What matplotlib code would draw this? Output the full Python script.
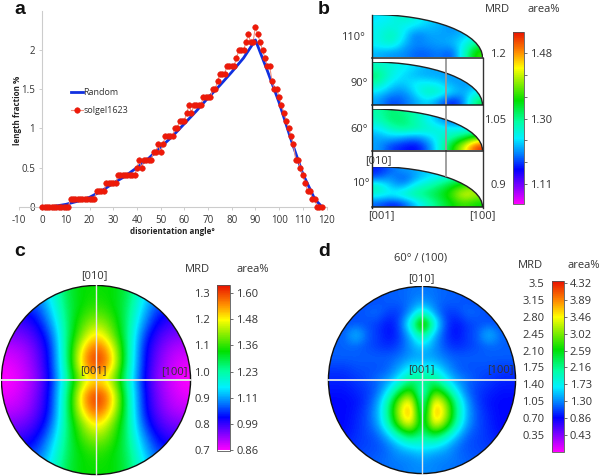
import numpy as np
import matplotlib
matplotlib.use('Agg')
import matplotlib.pyplot as plt
from matplotlib.colors import LinearSegmentedColormap, Normalize
from matplotlib.patches import Circle, Ellipse, Arc

plt.rcParams['font.family'] = ['Open Sans', 'DejaVu Sans']
plt.rcParams['axes.unicode_minus'] = False

# panel a: length fraction per degree
angle = list(range(0, 120))
solgel = [0]*12 + [0.1]*11 + [0.2]*4 + [0.3]*5 + [0.4]*8 + [0.5, 0.6, 0.5, 0.6, 0.6, 0.6, 0.6, 0.7, 0.7, 0.8, 0.7, 0.8,
          0.9, 0.9, 0.9, 0.9, 1.0, 1.0, 1.1, 1.1, 1.1, 1.2, 1.3, 1.2, 1.3, 1.3, 1.3, 1.3, 1.4, 1.4, 1.4, 1.4, 1.5, 1.5,
          1.6, 1.7, 1.7, 1.7, 1.8, 1.8, 1.8, 1.8, 1.9, 2.0, 2.0, 2.0, 2.1, 2.2, 2.1, 2.1, 2.3, 2.2, 2.1, 2.0, 1.9,
          1.8, 1.8, 1.6, 1.5, 1.5, 1.4, 1.3, 1.2, 1.1, 1.0, 0.9, 0.8, 0.6, 0.6, 0.5, 0.4, 0.3, 0.2, 0.2, 0.1, 0.1,
          0, 0, 0, 0]
random_x = [0, 5, 10, 15, 20, 25, 30, 35, 40, 45, 50, 55, 60, 65, 70, 75, 80, 85, 90, 95, 100, 105, 110, 115, 118]
random_y = [0, 0.005, 0.03, 0.07, 0.12, 0.2, 0.3, 0.39, 0.5, 0.62, 0.76, 0.9, 1.06, 1.22, 1.39, 1.55, 1.72, 1.9, 2.13,
            1.74, 1.33, 0.86, 0.42, 0.1, 0]

sec_110 = [[1.0, 1.01, 1.03, 1.02, 1.0, .99, .98, .985, .985],
           [1.01, 1.02, 1.01, 1.0, .99, .985, .97, .985, .99],
           [1.01, 1.04, 1.01, .96, .98, .98, .98, .99, 1.01],
           [1.01, 1.03, .99, .97, .975, .98, .985, 1.01, 1.06],
           [.985, .975, .975, .96, .96, .97, .95, 1.03, 1.11]]
sec_90 = [[1.03, 1.02, 1.01, 1.0, .985, .985, .985, .985, .985],
          [1.06, 1.02, 1.0, .985, .98, .98, .975, .985, .985],
          [1.04, 1.0, .99, 1.01, 1.01, 1.0, .98, .975, .98],
          [1.0, .98, .97, 1.0, 1.04, 1.03, 1.0, .98, 1.01],
          [.98, .95, .96, .98, 1.0, .97, .935, .97, 1.07]]
sec_60 = [[1.04, 1.06, 1.05, 1.04, 1.01, .98, .95, .97, .98],
          [1.03, 1.06, 1.06, 1.04, 1.01, .98, .96, .96, .98],
          [1.0, 1.03, 1.05, 1.04, 1.03, 1.02, 1.01, 1.01, 1.01],
          [.98, .99, .98, .97, .99, 1.02, 1.04, 1.07, 1.11],
          [.98, .95, .94, .93, .96, 1.02, 1.09, 1.16, 1.24]]
sec_10 = [[.94, .96, .98, .98, 1.0, .98, .98, 1.0, 1.01],
          [.96, .98, .95, .98, 1.0, 1.02, 1.04, 1.06, 1.09],
          [1.04, .99, .98, 1.02, 1.04, 1.06, 1.09, 1.11, 1.13],
          [1.02, 1.01, 1.03, 1.05, 1.06, 1.08, 1.11, 1.17, 1.14],
          [.96, .94, .95, .99, 1.03, 1.06, 1.09, 1.11, 1.09]]

# panel c: MRD on a 13x13 grid across the stereogram
pole_c = [[.86, .88, .90, .96, 1.05, 1.08, 1.08, 1.08, 1.05, .96, .90, .88, .86],
          [.84, .84, .86, .94, 1.04, 1.08, 1.10, 1.08, 1.04, .94, .86, .84, .84],
          [.80, .80, .83, .91, 1.03, 1.11, 1.15, 1.11, 1.03, .91, .83, .80, .80],
          [.76, .77, .80, .87, 1.03, 1.14, 1.23, 1.14, 1.03, .87, .80, .77, .76],
          [.73, .74, .78, .85, 1.03, 1.22, 1.31, 1.22, 1.03, .85, .78, .74, .73],
          [.71, .73, .77, .85, 1.02, 1.24, 1.33, 1.24, 1.02, .85, .77, .73, .71],
          [.70, .72, .76, .84, 1.0, 1.15, 1.2, 1.15, 1.0, .84, .76, .72, .70],
          [.71, .73, .77, .85, 1.02, 1.24, 1.33, 1.24, 1.02, .85, .77, .73, .71],
          [.73, .74, .78, .85, 1.03, 1.22, 1.31, 1.22, 1.03, .85, .78, .74, .73],
          [.76, .77, .80, .87, 1.03, 1.14, 1.23, 1.14, 1.03, .87, .80, .77, .76],
          [.80, .80, .83, .91, 1.03, 1.11, 1.15, 1.11, 1.03, .91, .83, .80, .80],
          [.84, .84, .86, .94, 1.04, 1.08, 1.10, 1.08, 1.04, .94, .86, .84, .84],
          [.86, .88, .90, .96, 1.05, 1.08, 1.08, 1.08, 1.05, .96, .90, .88, .86]]

# panel d: MRD on a 17x17 grid
pole_d = [[.9, .9, .9, .9, .9, .95, .95, 1.0, 1.0, 1.0, .95, .95, .9, .9, .9, .9, .9],
          [.9, .9, .9, .9, .9, .95, .95, 1.0, 1.1, 1.0, .95, .95, .9, .9, .9, .9, .9],
          [.9, .9, .9, .95, 1.0, .85, .85, 1.1, 1.6, 1.1, .85, .85, 1.0, .95, .9, .9, .9],
          [.9, .9, .9, .9, .85, .72, .9, 1.6, 2.7, 1.6, .9, .72, .85, .9, .9, .9, .9],
          [.95, .95, 1.3, .95, .85, .72, .85, 1.2, 1.8, 1.2, .85, .72, .85, .95, 1.3, .95, .95],
          [.95, .95, .95, .9, .85, .8, .9, 1.1, 1.3, 1.1, .9, .8, .85, .9, .95, .95, .95],
          [.95, .95, .95, .95, .95, .95, 1.0, 1.1, 1.1, 1.1, 1.0, .95, .95, .95, .95, .95, .95],
          [.85, .85, .9, .9, .9, .95, 1.15, 1.4, 1.4, 1.4, 1.15, .95, .9, .9, .9, .85, .85],
          [.8, .8, .85, .9, 1.0, 1.1, 1.4, 1.8, 1.8, 1.8, 1.4, 1.1, 1.0, .9, .85, .8, .8],
          [.75, .75, .8, .85, .95, 1.35, 1.95, 2.3, 1.3, 2.3, 1.95, 1.35, .95, .85, .8, .75, .75],
          [.72, .72, .75, .85, 1.1, 1.75, 2.6, 3.0, 1.3, 3.0, 2.6, 1.75, 1.1, .85, .75, .72, .72],
          [.72, .72, .78, .9, 1.15, 1.85, 2.75, 3.2, 1.4, 3.2, 2.75, 1.85, 1.15, .9, .78, .72, .72],
          [.72, .72, .8, .9, 1.1, 1.7, 2.5, 2.9, 1.7, 2.9, 2.5, 1.7, 1.1, .9, .8, .72, .72],
          [.72, .75, .82, .88, .95, 1.25, 1.7, 2.0, 1.7, 2.0, 1.7, 1.25, .95, .88, .82, .75, .72],
          [.8, .8, .85, .88, .9, 1.0, 1.2, 1.35, 1.4, 1.35, 1.2, 1.0, .9, .88, .85, .8, .8],
          [.85, .85, .9, .92, .95, 1.0, 1.05, 1.05, 1.15, 1.05, 1.05, 1.0, .95, .92, .9, .85, .85],
          [.9, .9, .9, .95, .95, 1.0, 1.0, 1.05, 1.05, 1.05, 1.0, 1.0, .95, .95, .9, .9, .9]]

# colour bar labels
mrd_b = [0.9, 1.05, 1.2]
mrd_b_labels = ['0.9', '1.05', '1.2']
minor_b = [0.95, 1.0, 1.1, 1.15]
area_b = ['1.11', '1.30', '1.48']
mrd_c = [0.7, 0.8, 0.9, 1.0, 1.1, 1.2, 1.3]
mrd_c_labels = ['0.7', '0.8', '0.9', '1.0', '1.1', '1.2', '1.3']
area_c = ['0.86', '0.99', '1.11', '1.23', '1.36', '1.48', '1.60']
mrd_d = [0.35, 0.70, 1.05, 1.40, 1.75, 2.10, 2.45, 2.80, 3.15, 3.5]
mrd_d_labels = ['0.35', '0.70', '1.05', '1.40', '1.75', '2.10', '2.45', '2.80', '3.15', '3.5']
area_d = ['0.43', '0.86', '1.30', '1.73', '2.16', '2.59', '3.02', '3.46', '3.89', '4.32']

rainbow = LinearSegmentedColormap.from_list('rainbow_mrd', [
    (0.0, '#ff00ff'), (0.1, '#8000ff'), (0.2, '#0000ff'), (0.29, '#0080ff'), (0.38, '#00f0ff'),
    (0.48, '#00ffa0'), (0.6, '#00e000'), (0.72, '#a0f000'), (0.79, '#ffff00'), (0.88, '#ff9000'),
    (1.0, '#e81000')])

W, H = 600, 476
fig = plt.figure(figsize=(W/100, H/100), dpi=100)


def px_axes(x0, y0, x1, y1, **kw):
    # axes from pixel box, y counted from the top
    return fig.add_axes([x0/W, 1 - y1/H, (x1-x0)/W, (y1-y0)/H], **kw)


def colorbar(im, box, mrd, mrd_labels, area, minor=None, fs=8):
    cax = px_axes(*box)
    cb = fig.colorbar(im, cax=cax)
    cb.outline.set_linewidth(0.6)
    cb.outline.set_edgecolor('#555555')
    cb.set_ticks(mrd)
    cb.set_ticklabels(mrd_labels)
    right = cax.twinx()   # twinx moves the colorbar's own ticks to the left
    cax.tick_params(axis='y', which='both', length=0, pad=5, labelsize=fs, colors='#333333')
    right.set_ylim(cax.get_ylim())
    right.set_yticks(mrd)
    right.set_yticklabels(area, fontsize=fs, color='#333333')
    if minor:
        right.set_yticks(minor, minor=True)
    right.tick_params(axis='y', which='both', length=2.5, width=0.6, pad=2, color='#555555')
    for s in right.spines.values():
        s.set_visible(False)


# a
ax = px_axes(18.5, 11, 326.5, 206.7)
ax.plot(random_x, random_y, color='#1030e0', lw=2, label='Random', zorder=2, clip_on=False)
ax.plot(angle[:119], solgel[:119], color='#f09080', lw=0.8, marker='o', ms=4, mfc='#f01808', mec='#e02010',
        mew=0.4, label='solgel1623', zorder=3, clip_on=False)
ax.set_xticks(range(-10, 121, 10))
ax.set_yticks([0, 0.5, 1, 1.5, 2])
ax.set_yticklabels(['0', '0.5', '1', '1.5', '2'])
ax.set_xlim(-10, 120)
ax.set_ylim(0, 2.5)
ax.tick_params(labelsize=7, length=2, width=0.5, color='#bbbbbb', labelcolor='#333333', pad=4)
for s in ['top', 'right']:
    ax.spines[s].set_visible(False)
ax.spines['left'].set_position(('data', 0))
ax.spines['left'].set_color('#cccccc')
ax.spines['bottom'].set_color('#cccccc')
ax.patch.set_alpha(0)
ax.tick_params(axis='y', pad=3)
ax.set_ylabel('length fraction %', fontsize=5.8, fontweight='bold', color='#222222')
ax.yaxis.set_label_coords(0.012, 0.494)
ax.set_xlabel('disorientation angle°', fontsize=5.8, fontweight='bold', color='#222222')
ax.xaxis.set_label_coords(0.5, -0.105)
ax.legend(loc='upper left', bbox_to_anchor=(0.157, 0.63), frameon=False, fontsize=6.5, handlelength=1.25,
          handletextpad=0.1, labelspacing=1.0, borderpad=0, labelcolor='#333333')

# b
norm_b = Normalize(0.854, 1.25)
boxes_b = [(371.5, 14.5, 482.5, 57.5, sec_110), (371.5, 62, 482.5, 105, sec_90),
           (371.5, 109, 482.5, 150.5, sec_60), (371.5, 166.5, 482.5, 207, sec_10)]
for x0, y0, x1, y1, sec in boxes_b:
    a = px_axes(x0, y0, x1, y1)
    im_b = a.imshow(sec, cmap=rainbow, norm=norm_b, extent=[0, 1, 0, 1], aspect='auto', interpolation='bicubic')
    clip = Ellipse((0, 0), 2, 2, transform=a.transData)
    im_b.set_clip_path(clip)
    a.add_patch(Arc((0, 0), 2, 2, theta1=0, theta2=90, color='#222222', lw=1.0))
    a.set_xlim(0, 1)
    a.set_ylim(0, 1)
    a.axis('off')
colorbar(im_b, (513, 31.7, 524, 204), mrd_b, mrd_b_labels, area_b, minor=minor_b)

# c
ax_c = px_axes(0.5, 284.5, 191.5, 475.5)
im_c = ax_c.imshow(pole_c, cmap=rainbow, norm=Normalize(0.7, 1.33), extent=[-1, 1, -1, 1], aspect='auto',
                   interpolation='bicubic')
im_c.set_clip_path(Circle((0, 0), 0.99, transform=ax_c.transData))
ax_c.add_patch(Circle((0, 0), 0.99, fc='none', ec='#111111', lw=1.0))
ax_c.axhline(0, xmin=0.005, xmax=0.995, color='#e8e8e8', lw=1.3)
ax_c.axvline(0, ymin=0.005, ymax=0.995, color='#e8e8e8', lw=1.0)
ax_c.set_xlim(-1, 1)
ax_c.set_ylim(-1, 1)
ax_c.axis('off')
colorbar(im_c, (217, 285, 230, 450.5), mrd_c, mrd_c_labels, area_c)

# d
ax_d = px_axes(327.5, 285.5, 516.5, 474.5)
im_d = ax_d.imshow(pole_d, cmap=rainbow, norm=Normalize(0, 3.54), extent=[-1, 1, -1, 1], aspect='auto',
                   interpolation='bicubic')
im_d.set_clip_path(Circle((0, 0), 0.99, transform=ax_d.transData))
ax_d.add_patch(Circle((0, 0), 0.99, fc='none', ec='#111111', lw=1.0))
ax_d.axhline(0, xmin=0.005, xmax=0.995, color='#dfe6ee', lw=1.3)
ax_d.axvline(0, ymin=0.005, ymax=0.995, color='#dfe6ee', lw=1.0)
ax_d.set_xlim(-1, 1)
ax_d.set_ylim(-1, 1)
ax_d.axis('off')
colorbar(im_d, (551.5, 281, 563.5, 452), mrd_d, mrd_d_labels, area_d)

# overlay in pixels for labels and the section frame
ov = fig.add_axes([0, 0, 1, 1], zorder=10)
ov.set_xlim(0, W)
ov.set_ylim(H, 0)
ov.axis('off')
ov.patch.set_alpha(0)

for lab, x, y in [('a', 14, 10), ('b', 318, 9), ('c', 14, 252), ('d', 318, 251)]:
    ov.text(x, y, lab, fontsize=14, fontweight='bold', family=['Liberation Sans'], ha='left', va='center', color='#111111')

# section frame of b
ov.plot([371.5, 371.5], [14.5, 207.5], color='#222222', lw=1.0)
ov.plot([482.7, 482.7], [58, 207.5], color='#333333', lw=1.0)
for y in [57.7, 105.2, 150.8, 207.3]:
    ov.plot([371.5, 482.7], [y, y], color='#222222', lw=1.1)
ov.plot([446, 446], [59, 176], color='#999999', lw=1.3, zorder=1)

txt = dict(fontsize=8, color='#333333', ha='center', va='center')
for s, x, y in [('110°', 353, 37), ('90°', 359, 83), ('60°', 359, 129), ('10°', 361, 184),
                ('[010]', 378, 161), ('[001]', 381, 216), ('[100]', 482, 216),
                ('MRD', 497, 10), ('area%', 544, 10),
                ('[010]', 94, 276), ('[001]', 93, 371), ('[100]', 174, 372),
                ('MRD', 197, 270), ('area%', 253, 270),
                ('60° / (100)', 421, 258), ('[010]', 421, 279), ('[001]', 421, 370), ('[100]', 500, 370),
                ('MRD', 530, 265), ('area%', 584, 265)]:
    ov.text(x, y, s, **txt)

fig.savefig('out.png', dpi=100)
